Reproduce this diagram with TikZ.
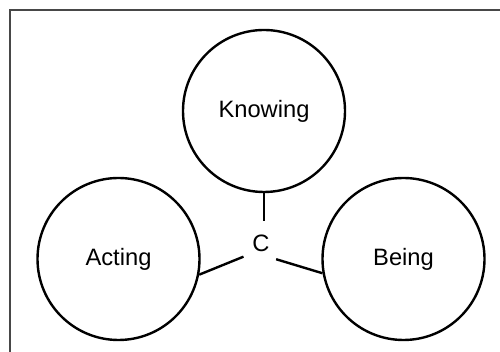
\documentclass[tikz,border=0pt]{standalone}
\usepackage{fontspec}
\setmainfont{Liberation Sans}
\usepackage{xcolor}

\begin{document}
\begin{tikzpicture}[x=1pt,y=1pt,
    part/.style={draw, circle, line width=2.4pt, minimum size=162pt, inner sep=0pt, font=\fontsize{23.7}{28}\selectfont},
    hub/.style={circle, minimum size=44pt, inner sep=0pt, font=\fontsize{23.7}{28}\selectfont},
    link/.style={line width=2.4pt}]
    \useasboundingbox (0,0) rectangle (500,352);

    % Frame (only left and top edges show)
    \draw[line width=1.5pt, black!72] (10,-5) -- (10,342) -- (510,342);

    % The three circles
    \node[part] (knowing) at (264,241) {Knowing};
    \node[part] (acting) at (118.5,93) {Acting};
    \node[part] (being) at (403.5,93) {Being};

    % Centre label
    \node[hub] (c) at (261,109) {C};

    % Links to the centre
    \draw[link] (knowing.south) -- (knowing.south |- c.north);
    \draw[link] (acting.-11) -- (c.218);
    \draw[link] (being.190) -- (c.-47);
\end{tikzpicture}
\end{document}
